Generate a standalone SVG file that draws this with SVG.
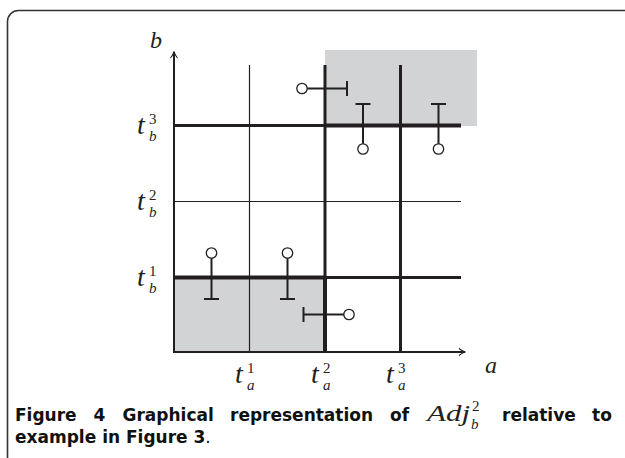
<svg xmlns="http://www.w3.org/2000/svg" width="625" height="458" viewBox="0 0 625 458">
<style>
.frame{fill:none;stroke:#333;stroke-width:1.6}
.gray{fill:#d1d3d4}
.thin{stroke:#231f20;stroke-width:1.2;fill:none}
.axis{stroke:#231f20;stroke-width:2;fill:none}
.thick{stroke:#231f20;stroke-width:3;fill:none}
.bold{stroke:#231f20;stroke-width:4;fill:none}
.pin{stroke:#231f20;stroke-width:2;fill:none}
.dot{stroke:#231f20;stroke-width:1.3;fill:#fff}
.m{font-family:"Liberation Serif",serif;font-style:italic;fill:#231f20}
.n{font-family:"Liberation Serif",serif;fill:#231f20}
.t{font-size:28px}
.s{font-size:15px}
.cap{font-family:"DejaVu Sans","Open Sans",sans-serif;font-weight:700;font-size:17px;fill:#111}
</style>
<defs>
<marker id="arr" viewBox="0 0 10 10" refX="9" refY="5" markerWidth="10" markerHeight="10" markerUnits="userSpaceOnUse" orient="auto">
<path d="M3,1.5 Q6,4 9,5 Q6,6 3,8.5" fill="none" stroke="#231f20" stroke-width="1.1"/>
</marker>
</defs>
<rect class="frame" x="7.5" y="10.5" width="630" height="460" rx="11"/>
<g id="regions">
<rect class="gray" x="325" y="50" width="152" height="76"/>
<rect class="gray" x="174" y="277.5" width="151" height="74.5"/>
</g>
<g id="connectors">
<line class="thin" x1="249.5" y1="65" x2="249.5" y2="352"/>
<line class="thick" x1="325" y1="65" x2="325" y2="352"/>
<line class="thick" x1="400.5" y1="65" x2="400.5" y2="352"/>
<line class="thin" x1="174" y1="201.5" x2="461" y2="201.5"/>
<line class="thick" x1="174" y1="125.5" x2="461" y2="125.5"/>
<line class="thick" x1="174" y1="277.5" x2="461" y2="277.5"/>
<line class="bold" x1="325" y1="125.5" x2="461" y2="125.5"/>
<line class="bold" x1="174" y1="277.5" x2="325" y2="277.5"/>
<line class="bold" x1="325" y1="277.5" x2="325" y2="352"/>
<line class="axis" x1="174" y1="352" x2="174" y2="52" marker-end="url(#arr)"/>
<line class="axis" x1="173" y1="352" x2="465" y2="352" marker-end="url(#arr)"/>
</g>
<g id="pin-top-left">
<line class="pin" x1="302" y1="88.5" x2="347" y2="88.5"/>
<line class="pin" x1="347" y1="81" x2="347" y2="96"/>
<circle class="dot" cx="302" cy="88.5" r="5.2"/>
</g>
<g id="pin-top-mid">
<line class="pin" x1="363" y1="104" x2="363" y2="149"/>
<line class="pin" x1="355.5" y1="104" x2="370.5" y2="104"/>
<circle class="dot" cx="363" cy="149" r="5.2"/>
</g>
<g id="pin-top-right">
<line class="pin" x1="438.5" y1="104" x2="438.5" y2="149"/>
<line class="pin" x1="431" y1="104" x2="446" y2="104"/>
<circle class="dot" cx="438.5" cy="149" r="5.2"/>
</g>
<g id="pin-bottom-left">
<line class="pin" x1="211.5" y1="253" x2="211.5" y2="299"/>
<line class="pin" x1="204" y1="299" x2="219" y2="299"/>
<circle class="dot" cx="211.5" cy="253" r="5.2"/>
</g>
<g id="pin-bottom-mid">
<line class="pin" x1="287.5" y1="253" x2="287.5" y2="299"/>
<line class="pin" x1="280" y1="299" x2="295" y2="299"/>
<circle class="dot" cx="287.5" cy="253" r="5.2"/>
</g>
<g id="pin-bottom-right">
<line class="pin" x1="303.5" y1="314.5" x2="349" y2="314.5"/>
<line class="pin" x1="303.5" y1="307" x2="303.5" y2="322"/>
<circle class="dot" cx="349" cy="314.5" r="5.2"/>
</g>
<g id="labels">
<text class="m" x="150" y="48" font-size="24">b</text>
<text class="m" x="485" y="373" font-size="24">a</text>
<text class="m t" x="137" y="134">t</text><text class="n s" x="149" y="123.5">3</text><text class="m s" x="149" y="141">b</text>
<text class="m t" x="137" y="210">t</text><text class="n s" x="149" y="199.5">2</text><text class="m s" x="149" y="217">b</text>
<text class="m t" x="137" y="286">t</text><text class="n s" x="149" y="275.5">1</text><text class="m s" x="149" y="293">b</text>
<text class="m t" x="235" y="383">t</text><text class="n s" x="247" y="372.5">1</text><text class="m s" x="247" y="390">a</text>
<text class="m t" x="311" y="383">t</text><text class="n s" x="323" y="372.5">2</text><text class="m s" x="323" y="390">a</text>
<text class="m t" x="386" y="383">t</text><text class="n s" x="398" y="372.5">3</text><text class="m s" x="398" y="390">a</text>
</g>
<g id="caption">
<text class="cap" x="15" y="421">Figure</text>
<text class="cap" x="93.5" y="421">4</text>
<text class="cap" x="122.5" y="421">Graphical</text>
<text class="cap" x="230" y="421">representation</text>
<text class="cap" x="390" y="421">of</text>
<text class="m" x="427" y="421" font-size="23" textLength="43" lengthAdjust="spacingAndGlyphs">Adj</text><text class="n" x="472" y="411" font-size="15">2</text><text class="m" x="471" y="429" font-size="15">b</text>
<text class="cap" x="502" y="421">relative</text>
<text class="cap" x="592" y="421">to</text>
<text class="cap" x="15" y="443">example in Figure 3<tspan font-weight="400">.</tspan></text>
</g>
</svg>
